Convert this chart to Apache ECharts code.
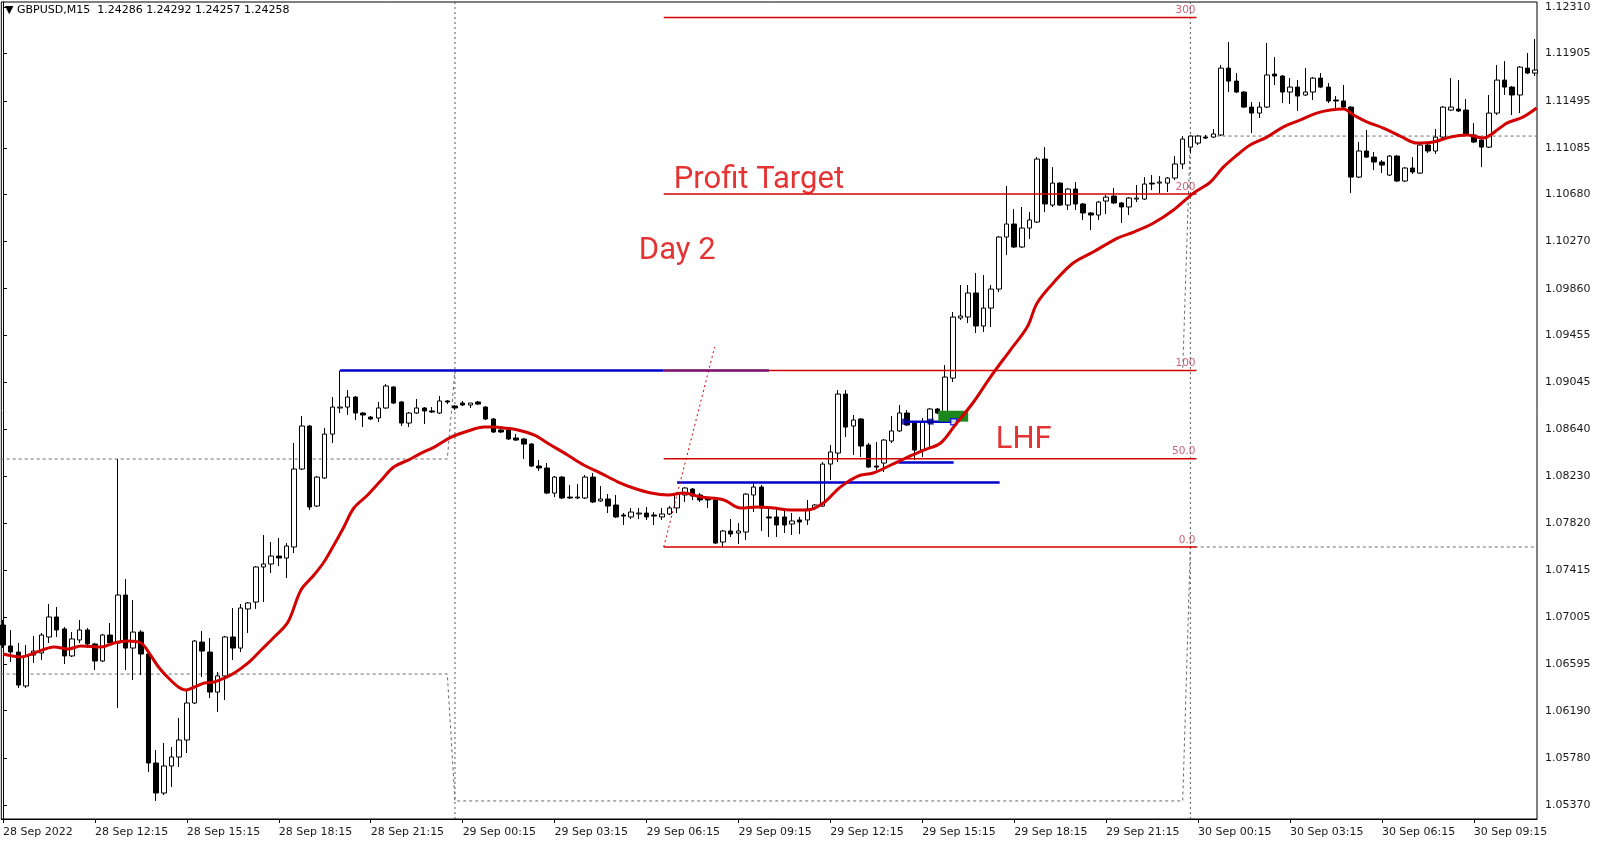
<!DOCTYPE html>
<html><head><meta charset="utf-8"><title>GBPUSD M15</title>
<script src="https://cdn.jsdelivr.net/npm/echarts@6/dist/echarts.min.js"></script>
<style>html,body{margin:0;padding:0;background:#fff;}#chart{width:1600px;height:850px;}</style>
</head><body><div id="chart"></div>
<script>
// ---------- DATA ----------
const timeTickBars = [0,12,24,36,48,60,72,84,96,108,120,132,144,156,168,180,192];
const timeLabels = ['28 Sep 2022','28 Sep 12:15','28 Sep 15:15','28 Sep 18:15','28 Sep 21:15','29 Sep 00:15','29 Sep 03:15','29 Sep 06:15','29 Sep 09:15','29 Sep 12:15','29 Sep 15:15','29 Sep 18:15','29 Sep 21:15','30 Sep 00:15','30 Sep 03:15','30 Sep 06:15','30 Sep 09:15'];
const priceTicks = [1.05370,1.05780,1.06190,1.06595,1.07005,1.07415,1.07820,1.08230,1.08640,1.09045,1.09455,1.09860,1.10270,1.10680,1.11085,1.11495,1.11905,1.12310];

const open = [
1.06935,1.06753,1.06700,1.06405,1.06674,1.06692,1.06831,1.07005,1.06901,1.06666,
1.06805,1.06892,1.06770,1.06622,1.06848,1.06779,1.07196,1.06735,1.06874,1.06683,
1.05735,1.05474,1.05709,1.05787,1.05935,1.06257,1.06787,1.06700,1.06352,1.06492,
1.06831,1.06735,1.07075,1.07135,1.07440,1.07466,1.07535,1.07518,1.07614,1.08292,
1.08666,1.07970,1.08214,1.08596,1.08823,1.08831,1.08918,1.08779,1.08744,1.08736,
1.08823,1.09005,1.08875,1.08692,1.08779,1.08823,1.08797,1.08779,1.08884,1.08840,
1.08866,1.08849,1.08875,1.08831,1.08727,1.08631,1.08631,1.08562,1.08553,1.08509,
1.08318,1.08301,1.08083,1.08222,1.08048,1.08040,1.08040,1.08222,1.08014,1.08031,
1.07979,1.07892,1.07875,1.07901,1.07909,1.07892,1.07875,1.07901,1.07953,1.08066,
1.08118,1.08066,1.08031,1.08023,1.07657,1.07753,1.07735,1.07744,1.08066,1.08135,
1.07875,1.07875,1.07875,1.07814,1.07849,1.07849,1.07953,1.07970,1.08335,1.08431,
1.08944,1.08666,1.08727,1.08501,1.08318,1.08344,1.08536,1.08623,1.08779,1.08692,
1.08457,1.08692,1.08814,1.08779,1.09083,1.09605,1.09614,1.09823,1.09536,1.09692,
1.09857,1.10310,1.10423,1.10223,1.10388,1.10440,1.10988,1.10588,1.10779,1.10588,
1.10727,1.10597,1.10519,1.10501,1.10623,1.10666,1.10606,1.10571,1.10640,1.10640,
1.10779,1.10779,1.10779,1.10823,1.10945,1.11092,1.11127,1.11179,1.11179,1.11197,
1.11779,1.11666,1.11571,1.11440,1.11388,1.11440,1.11727,1.11710,1.11571,1.11614,
1.11545,1.11571,1.11692,1.11614,1.11501,1.11493,1.11440,1.10831,1.11058,1.11005,
1.10962,1.10849,1.11014,1.10797,1.10910,1.10866,1.11110,1.11058,1.11179,1.11414,
1.11423,1.11414,1.11197,1.11153,1.11092,1.11388,1.11675,1.11614,1.11545,1.11779,
1.11736];
const high = [
1.06979,1.06892,1.06779,1.06761,1.06840,1.06866,1.07118,1.07092,1.06918,1.06874,
1.06979,1.06909,1.06779,1.06857,1.06953,1.08379,1.07335,1.07153,1.06892,1.06692,
1.05848,1.05909,1.05874,1.06127,1.06370,1.06805,1.06883,1.06822,1.06526,1.06840,
1.07083,1.07118,1.07135,1.07448,1.07718,1.07657,1.07692,1.07648,1.08518,1.08753,
1.08675,1.08231,1.08649,1.08918,1.09149,1.08979,1.08927,1.08788,1.08753,1.08875,
1.09031,1.09014,1.08884,1.08788,1.08901,1.08831,1.08831,1.08927,1.08892,1.08849,
1.08884,1.08866,1.08884,1.08840,1.08736,1.08640,1.08640,1.08596,1.08562,1.08518,
1.08370,1.08344,1.08231,1.08231,1.08153,1.08161,1.08240,1.08257,1.08144,1.08074,
1.08066,1.07909,1.07953,1.07953,1.07962,1.07918,1.07953,1.07970,1.08092,1.08135,
1.08127,1.08083,1.08040,1.08031,1.07762,1.07857,1.07822,1.08083,1.08170,1.08153,
1.07953,1.07953,1.07953,1.07909,1.07875,1.08023,1.07988,1.08353,1.08501,1.08979,
1.08979,1.08762,1.08736,1.08518,1.08527,1.08553,1.08753,1.08849,1.08805,1.08701,
1.08736,1.08823,1.08823,1.09196,1.09658,1.09892,1.09892,1.09997,1.09979,1.09892,
1.10318,1.10753,1.10553,1.10571,1.10527,1.11005,1.11092,1.10918,1.10788,1.10736,
1.10788,1.10606,1.10527,1.10623,1.10675,1.10736,1.10614,1.10657,1.10762,1.10831,
1.10849,1.10840,1.10831,1.11014,1.11188,1.11197,1.11197,1.11197,1.11249,1.11806,
1.12006,1.11736,1.11579,1.11484,1.11484,1.11997,1.11875,1.11719,1.11692,1.11675,
1.11779,1.11701,1.11736,1.11649,1.11536,1.11632,1.11449,1.11136,1.11240,1.11049,
1.10979,1.11023,1.11023,1.10918,1.11005,1.11119,1.11127,1.11249,1.11449,1.11692,
1.11675,1.11510,1.11301,1.11162,1.11545,1.11806,1.11840,1.11623,1.11797,1.11910,
1.12032];
const low = [
1.06735,1.06613,1.06387,1.06387,1.06605,1.06631,1.06779,1.06831,1.06596,1.06657,
1.06779,1.06735,1.06544,1.06613,1.06761,1.06214,1.06544,1.06457,1.06500,1.05657,
1.05405,1.05457,1.05526,1.05700,1.05822,1.06248,1.06483,1.06300,1.06179,1.06283,
1.06631,1.06700,1.06866,1.07075,1.07135,1.07387,1.07448,1.07344,1.07561,1.08283,
1.07936,1.07962,1.08205,1.08518,1.08779,1.08762,1.08718,1.08657,1.08718,1.08701,
1.08814,1.08857,1.08666,1.08657,1.08770,1.08683,1.08779,1.08770,1.08857,1.08805,
1.08840,1.08823,1.08849,1.08718,1.08605,1.08605,1.08544,1.08536,1.08379,1.08309,
1.08275,1.08074,1.08048,1.08031,1.08031,1.08031,1.08031,1.07996,1.08005,1.07909,
1.07866,1.07805,1.07857,1.07857,1.07849,1.07805,1.07849,1.07892,1.07909,1.08005,
1.08023,1.08005,1.07953,1.07640,1.07614,1.07701,1.07640,1.07675,1.07918,1.07753,
1.07701,1.07701,1.07735,1.07718,1.07727,1.07805,1.07936,1.07962,1.08196,1.08353,
1.08570,1.08414,1.08396,1.08301,1.08283,1.08266,1.08518,1.08614,1.08666,1.08370,
1.08396,1.08483,1.08770,1.08770,1.09049,1.09588,1.09562,1.09475,1.09484,1.09527,
1.09831,1.10153,1.10214,1.10214,1.10292,1.10432,1.10527,1.10571,1.10579,1.10545,
1.10545,1.10458,1.10371,1.10458,1.10510,1.10597,1.10432,1.10501,1.10614,1.10632,
1.10718,1.10692,1.10701,1.10805,1.10901,1.11040,1.11110,1.11162,1.11171,1.11188,
1.11571,1.11562,1.11432,1.11214,1.11345,1.11432,1.11632,1.11475,1.11467,1.11406,
1.11536,1.11501,1.11605,1.11475,1.11432,1.11432,1.10692,1.10823,1.10997,1.10892,
1.10866,1.10840,1.10788,1.10788,1.10858,1.10858,1.11040,1.11032,1.11171,1.11406,
1.11397,1.11188,1.11127,1.10918,1.11084,1.11371,1.11545,1.11371,1.11388,1.11727,
1.11710];
const close = [
1.06761,1.06700,1.06413,1.06666,1.06709,1.06848,1.07005,1.06892,1.06666,1.06814,
1.06892,1.06770,1.06622,1.06848,1.06779,1.07196,1.06735,1.06874,1.06683,1.05735,
1.05474,1.05709,1.05787,1.05935,1.06257,1.06796,1.06709,1.06352,1.06492,1.06831,
1.06735,1.07083,1.07127,1.07440,1.07466,1.07535,1.07518,1.07622,1.08292,1.08666,
1.07962,1.08222,1.08596,1.08831,1.08831,1.08918,1.08779,1.08762,1.08727,1.08823,
1.09014,1.08866,1.08692,1.08779,1.08823,1.08797,1.08788,1.08884,1.08875,1.08823,
1.08849,1.08866,1.08857,1.08727,1.08614,1.08614,1.08553,1.08544,1.08509,1.08318,
1.08301,1.08083,1.08222,1.08040,1.08040,1.08048,1.08222,1.08005,1.08031,1.07970,
1.07875,1.07883,1.07918,1.07909,1.07875,1.07883,1.07901,1.07953,1.08074,1.08127,
1.08057,1.08023,1.08023,1.07648,1.07753,1.07727,1.07753,1.08074,1.08135,1.07953,
1.07866,1.07805,1.07805,1.07840,1.07831,1.07944,1.07979,1.08335,1.08440,1.08944,
1.08657,1.08718,1.08492,1.08309,1.08309,1.08544,1.08623,1.08779,1.08675,1.08457,
1.08701,1.08814,1.08779,1.09092,1.09614,1.09623,1.09823,1.09536,1.09692,1.09857,
1.10310,1.10423,1.10223,1.10388,1.10458,1.10988,1.10597,1.10779,1.10588,1.10727,
1.10597,1.10519,1.10501,1.10614,1.10657,1.10606,1.10571,1.10649,1.10649,1.10771,
1.10771,1.10788,1.10823,1.10945,1.11162,1.11188,1.11188,1.11171,1.11206,1.11779,
1.11666,1.11571,1.11440,1.11388,1.11440,1.11719,1.11710,1.11571,1.11614,1.11536,
1.11571,1.11692,1.11614,1.11493,1.11493,1.11440,1.10831,1.11058,1.11005,1.10962,
1.10936,1.11014,1.10797,1.10910,1.10875,1.11110,1.11058,1.11179,1.11440,1.11440,
1.11406,1.11197,1.11136,1.11092,1.11388,1.11675,1.11614,1.11545,1.11788,1.11736,
1.11762];

// moving average (bar position, price)
const maBar = [0,2.4,4.1,6.7,8.5,10.2,12.8,14.5,16.3,18.0,19.0,20.3,21.6,22.9,23.9,25.0,26.3,27.6,28.9,30.2,32.0,33.7,35.4,37.2,38.9,40.6,41.9,43.2,44.5,45.8,47.6,49.4,51.0,52.9,54.6,56.3,58.5,60.7,62.8,64.1,65.4,67.2,69.3,71.5,73.7,75.8,78.0,80.3,82.3,84.6,86.8,88.9,91.1,94.1,96.3,98.5,100.6,102.8,105.0,107.1,109.3,111.6,113.6,115.9,118.1,120.2,122.4,124.3,126.7,128.9,131.5,133.7,135.0,137.1,139.7,142.3,145.5,147.6,150.2,152.8,155.4,157.6,159.3,161.1,162.8,165.0,167.1,169.3,171.5,173.3,175.0,176.3,178.1,180.2,182.4,184.6,186.7,188.9,191.1,193.2,195.4,196.3,198.4,200.2];
const maPrice = [1.06683,1.06657,1.06692,1.06744,1.06726,1.06753,1.06744,1.06779,1.06796,1.06779,1.06700,1.06570,1.06474,1.06396,1.06370,1.06396,1.06431,1.06440,1.06474,1.06518,1.06605,1.06718,1.06831,1.06961,1.07240,1.07370,1.07483,1.07631,1.07788,1.07953,1.08066,1.08196,1.08309,1.08370,1.08431,1.08483,1.08570,1.08623,1.08657,1.08657,1.08649,1.08631,1.08588,1.08501,1.08414,1.08327,1.08257,1.08179,1.08127,1.08083,1.08066,1.08083,1.08048,1.08023,1.07953,1.07962,1.07953,1.07936,1.07936,1.07996,1.08135,1.08231,1.08257,1.08327,1.08396,1.08457,1.08518,1.08675,1.08875,1.09092,1.09327,1.09527,1.09736,1.09910,1.10084,1.10179,1.10301,1.10353,1.10432,1.10545,1.10692,1.10788,1.10918,1.11023,1.11110,1.11179,1.11266,1.11327,1.11388,1.11414,1.11423,1.11371,1.11310,1.11258,1.11188,1.11127,1.11136,1.11179,1.11197,1.11171,1.11258,1.11301,1.11353,1.11432];

// day separators (first bar of each day)
const separatorBars = [59, 155];
// previous-day high / low indicator
const prevDayBars = [-0.3, 58, 59, 154, 155, 200.4];
const prevDayHigh = [1.08379, 1.08379, 1.09149, 1.09149, 1.11188, 1.11188];
const prevDayLow  = [1.06509, 1.06509, 1.05405, 1.05405, 1.07614, 1.07614];

// Fibonacci expansion
const fibBars = [86.25, 155.8];
const fibLabels = ['0.0', '50.0', '100', '200', '300'];
const fibPrices = [1.07614, 1.08382, 1.09149, 1.10684, 1.12219];
const fibTrendBars = [86.25, 92.9];
const fibTrendPrices = [1.07614, 1.09353];

// blue horizontal lines
const blueBars = [[44, 86.25], [88, 130.1], [116.9, 124.1], [117.7, 124.3]];
const bluePrices = [1.09149, 1.08175, 1.08349, 1.08704];
const overlapBars = [86.25, 100];   // blue line under fib 100 level
// trade markers
const entryBars = [117.7, 121.1];
const exitBars = [124.1];
const tradePrice = 1.08704;
// green rectangle
const rectBars = [122.1, 126.0];
const rectPrices = [1.08799, 1.08704];
// text notes
const noteTexts = ['Profit Target', 'Day 2', 'LHF'];
const noteBars = [87.56, 83.0, 129.6];
const notePrices = [1.10800, 1.10190, 1.08545];

// ---------- CHART ----------
const X_MIN = -0.22, X_MAX = 200.25, Y_MIN = 1.05248, Y_MAX = 1.12354;
const RED = '#d20000', BLUE = '#0000c8';
const chart = echarts.init(document.getElementById('chart'));
const hseg = (b, p) => [[b[0], p], [b[1], p]];
const line = (data, style, z, extra) => Object.assign({type: 'line', data, symbol: 'none', silent: true, z, lineStyle: style}, extra || {});

const series = [];
separatorBars.forEach(b => series.push(line([[b, Y_MIN], [b, Y_MAX]], {color: '#555', width: 1, type: [2, 3]}, 1)));
series.push(line(prevDayBars.map((b, i) => [b, prevDayHigh[i]]), {color: '#6a6a6a', width: 1, type: [3, 3]}, 2));
series.push(line(prevDayBars.map((b, i) => [b, prevDayLow[i]]), {color: '#6a6a6a', width: 1, type: [3, 3]}, 2));
series.push({
  type: 'candlestick', z: 3, silent: true, barWidth: 5,
  data: open.map((o, i) => [i, o, close[i], low[i], high[i]]),
  encode: {x: 0, y: [1, 2, 3, 4]},
  itemStyle: {color: '#ffffff', color0: '#000000', borderColor: '#000000', borderColor0: '#000000', borderColorDoji: '#000000', borderWidth: 1}
});
blueBars.forEach((b, i) => series.push(line(hseg(b, bluePrices[i]), {color: BLUE, width: 2.5}, 4)));
series.push(line(hseg(overlapBars, bluePrices[0]), {color: '#7a1470', width: 2.5}, 5));
fibPrices.forEach((p, i) => series.push(line(hseg(fibBars, p), {color: RED, width: 1.5}, 4)));
series.push(line(fibTrendBars.map((b, i) => [b, fibTrendPrices[i]]), {color: RED, width: 1, type: [2, 3]}, 4));
series.push({
  type: 'scatter', z: 6, silent: true, symbolSize: 0,
  data: fibPrices.map(p => [fibBars[1], p]),
  label: {show: true, position: 'left', distance: 1, offset: [0, -7],
    formatter: (p) => fibLabels[p.dataIndex], color: '#c23a55', fontSize: 10.5, fontFamily: 'DejaVu Sans'}
});
series.push({
  type: 'custom', z: 5, silent: true,
  data: [[rectBars[0], rectPrices[0], rectBars[1], rectPrices[1]]],
  encode: {x: [0, 2], y: [1, 3]},
  renderItem: (params, api) => {
    const a = api.coord([api.value(0), api.value(1)]);
    const b = api.coord([api.value(2), api.value(3)]);
    return {type: 'rect', shape: {x: a[0], y: a[1], width: b[0] - a[0], height: b[1] - a[1]}, style: {fill: '#1d861d'}};
  }
});
series.push({type: 'scatter', z: 6, silent: true, symbol: 'rect', symbolSize: 6,
  data: entryBars.map(b => [b, tradePrice]), itemStyle: {color: '#00008b'}});
series.push({type: 'scatter', z: 6, silent: true, symbol: 'rect', symbolSize: 6,
  data: exitBars.map(b => [b, tradePrice]), itemStyle: {color: '#ffffff', borderColor: '#0000ff', borderWidth: 1.5}});
series.push(line(maBar.map((b, i) => [b, maPrice[i]]), {color: RED, width: 3}, 7, {smooth: 0.35}));
series.push({
  type: 'scatter', z: 8, silent: true, symbolSize: 0,
  data: noteBars.map((b, i) => [b, notePrices[i]]),
  label: {show: true, position: 'right', distance: 0, formatter: (p) => noteTexts[p.dataIndex],
    color: '#dc0000', fontSize: 31, fontFamily: 'Roboto'}
});

chart.setOption({
  animation: false,
  backgroundColor: '#ffffff',
  grid: {left: 0, right: 63, top: 2, bottom: 31, show: true, borderColor: '#000', borderWidth: 1, backgroundColor: '#fff'},
  xAxis: {
    type: 'value', min: X_MIN, max: X_MAX,
    axisLine: {show: true, lineStyle: {color: '#000', width: 1}},
    axisTick: {show: true, customValues: timeTickBars, length: 4, lineStyle: {color: '#000'}},
    axisLabel: {customValues: timeTickBars, align: 'left', margin: 8, color: '#1a1a1a', fontSize: 11, fontFamily: 'DejaVu Sans',
      formatter: (v) => timeLabels[timeTickBars.indexOf(Math.round(v))]},
    splitLine: {show: false}
  },
  yAxis: {
    type: 'value', position: 'right', min: Y_MIN, max: Y_MAX,
    axisLine: {show: true, lineStyle: {color: '#000', width: 1}},
    axisTick: {show: true, customValues: priceTicks, length: 4, lineStyle: {color: '#000'}},
    axisLabel: {customValues: priceTicks, margin: 8, color: '#1a1a1a', fontSize: 11, fontFamily: 'DejaVu Sans',
      formatter: (v) => v.toFixed(5)},
    splitLine: {show: false}
  },
  graphic: [{type: 'text', left: 5, top: 5, z: 100,
    style: {text: '\u25BC GBPUSD,M15  1.24286 1.24292 1.24257 1.24258', font: '11px "DejaVu Sans"', fill: '#000'}}],
  series
});
</script></body></html>
